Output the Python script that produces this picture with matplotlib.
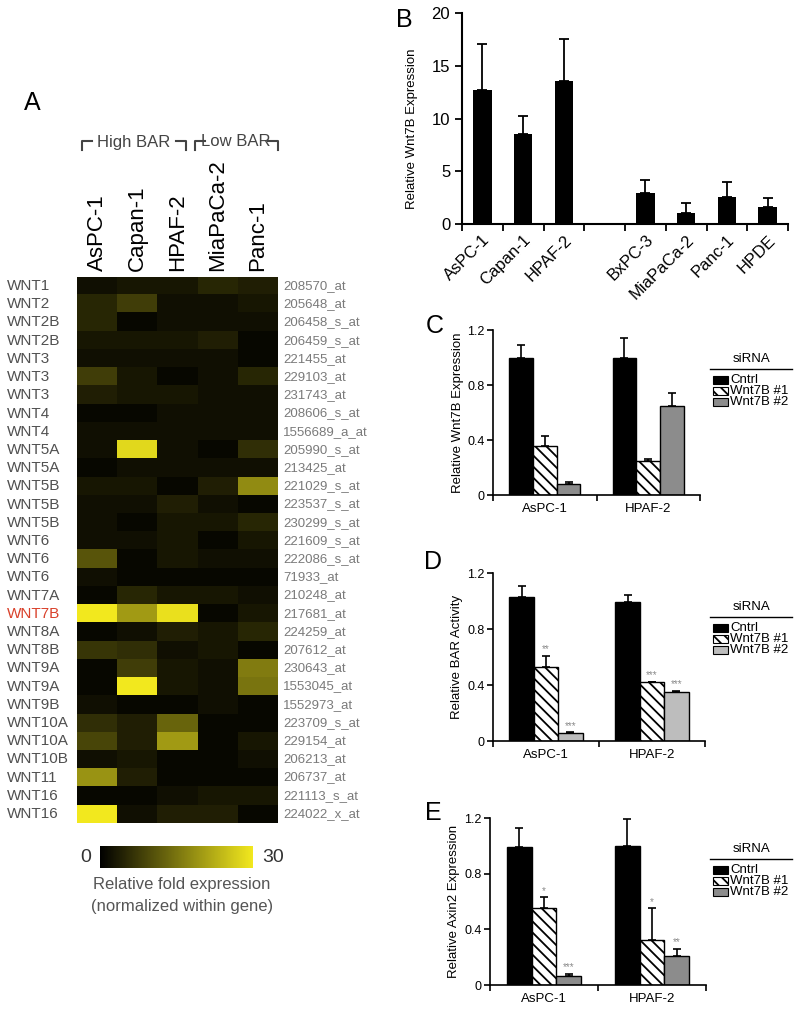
import numpy as np
import matplotlib
matplotlib.use('Agg')
import matplotlib.pyplot as plt
import matplotlib.transforms as mtransforms
from matplotlib.colors import LinearSegmentedColormap
from matplotlib.lines import Line2D
from matplotlib.patches import Rectangle

plt.rcParams['font.family'] = ['Liberation Sans', 'DejaVu Sans']
plt.rcParams['hatch.linewidth'] = 1.3

W, H = 800, 1013

# ---------------- panel A: heatmap data ----------------
genes = ['WNT1', 'WNT2', 'WNT2B', 'WNT2B', 'WNT3', 'WNT3', 'WNT3', 'WNT4', 'WNT4',
         'WNT5A', 'WNT5A', 'WNT5B', 'WNT5B', 'WNT5B', 'WNT6', 'WNT6', 'WNT6', 'WNT7A',
         'WNT7B', 'WNT8A', 'WNT8B', 'WNT9A', 'WNT9A', 'WNT9B', 'WNT10A', 'WNT10A',
         'WNT10B', 'WNT11', 'WNT16', 'WNT16']
probes = ['208570_at', '205648_at', '206458_s_at', '206459_s_at', '221455_at', '229103_at',
          '231743_at', '208606_s_at', '1556689_a_at', '205990_s_at', '213425_at',
          '221029_s_at', '223537_s_at', '230299_s_at', '221609_s_at', '222086_s_at',
          '71933_at', '210248_at', '217681_at', '224259_at', '207612_at', '230643_at',
          '1553045_at', '1552973_at', '223709_s_at', '229154_at', '206213_at', '206737_at',
          '221113_s_at', '224022_x_at']
cell_lines_a = ['AsPC-1', 'Capan-1', 'HPAF-2', 'MiaPaCa-2', 'Panc-1']
fold_aspc1 = [2, 5, 5, 3, 2, 8, 4, 1, 2, 2, 1, 3, 2, 2, 2, 11, 2, 1, 30, 1, 7, 1, 1, 2, 6, 9, 2, 19, 1, 30]
fold_capan1 = [3, 8, 1, 3, 2, 3, 3, 1, 2, 28, 2, 3, 2, 1, 2, 1, 1, 5, 20, 2, 6, 8, 30, 1, 4, 4, 3, 4, 1, 2]
fold_hpaf2 = [3, 2, 2, 3, 2, 1, 3, 2, 2, 2, 2, 1, 4, 3, 3, 3, 1, 3, 29, 4, 2, 3, 3, 1, 13, 20, 1, 1, 2, 4]
fold_miapaca2 = [5, 2, 2, 4, 2, 2, 2, 2, 2, 1, 2, 4, 2, 3, 1, 2, 1, 3, 1, 3, 3, 2, 2, 2, 1, 1, 1, 1, 3, 4]
fold_panc1 = [4, 3, 2, 1, 1, 5, 2, 2, 2, 6, 2, 18, 1, 5, 3, 2, 1, 2, 3, 5, 1, 16, 15, 1, 1, 3, 2, 1, 3, 1]

# ---------------- panel B ----------------
lines_b = ['AsPC-1', 'Capan-1', 'HPAF-2', 'BxPC-3', 'MiaPaCa-2', 'Panc-1', 'HPDE']
wnt7b_mean = [12.7, 8.5, 13.6, 2.9, 1.0, 2.6, 1.6]
wnt7b_sd = [4.4, 1.7, 3.9, 1.3, 1.0, 1.4, 0.9]

# ---------------- panels C-E ----------------
groups = ['AsPC-1', 'HPAF-2']
legend_labels = ['Cntrl', 'Wnt7B #1', 'Wnt7B #2']

c_cntrl, c_cntrl_err = [1.0, 1.0], [0.09, 0.14]
c_si1, c_si1_err = [0.36, 0.25], [0.07, 0.01]
c_si2, c_si2_err = [0.08, 0.65], [0.015, 0.09]

d_cntrl, d_cntrl_err = [1.03, 0.99], [0.08, 0.05]
d_si1, d_si1_err = [0.53, 0.42], [0.08, 0.005]
d_si2, d_si2_err = [0.055, 0.35], [0.008, 0.008]
d_stars = [['', ''], ['**', '***'], ['***', '***']]

e_cntrl, e_cntrl_err = [0.99, 1.0], [0.14, 0.19]
e_si1, e_si1_err = [0.55, 0.32], [0.08, 0.23]
e_si2, e_si2_err = [0.065, 0.21], [0.015, 0.05]
e_stars = [['', ''], ['*', '*'], ['***', '**']]


def fx(x):
    return x / W


def fy(y):
    return 1 - y / H


def rect(l, t, r, b):
    return [fx(l), fy(b), (r - l) / W, (b - t) / H]


fig = plt.figure(figsize=(8, 10.13), dpi=100)

# ---------------- A ----------------
cmap = LinearSegmentedColormap.from_list('blackyellow', ['#000000', '#f2e81e'])
ax_a = fig.add_axes(rect(77, 277, 278, 823))
heat = np.column_stack([fold_aspc1, fold_capan1, fold_hpaf2, fold_miapaca2, fold_panc1])
im = ax_a.imshow(heat, cmap=cmap, vmin=0, vmax=30, aspect='auto', interpolation='nearest')
ax_a.set_xticks(range(len(cell_lines_a)))
ax_a.set_xticklabels(cell_lines_a, rotation=90, fontsize=16)
ax_a.xaxis.tick_top()
ax_a.tick_params(axis='x', length=0, pad=4)
ax_a.set_yticks([])
for s in ax_a.spines.values():
    s.set_visible(False)

tr = mtransforms.blended_transform_factory(fig.transFigure, ax_a.transData)
for i, (g, p) in enumerate(zip(genes, probes)):
    ax_a.text(fx(7), i, g, transform=tr, ha='left', va='center', fontsize=11,
              color='#d9412b' if g == 'WNT7B' else '#505050')
    ax_a.text(fx(283), i, p, transform=tr, ha='left', va='center', fontsize=9.5,
              color='#7a7a7a')

# High / Low BAR brackets
def bracket(x0, x1, label, xc):
    y0, y1 = fy(141), fy(150)
    fig.add_artist(Line2D([fx(x0), fx(x0), fx(x0 + 10)], [y1, y0, y0], color='#444444', lw=1.5))
    fig.add_artist(Line2D([fx(x1 - 10), fx(x1), fx(x1)], [y0, y0, y1], color='#444444', lw=1.5))
    fig.text(fx(xc), fy(142), label, ha='center', va='center', fontsize=12, color='#444444')

bracket(82, 186, 'High BAR', 134)
bracket(195, 278, 'Low BAR', 236)

fig.text(fx(32), fy(103), 'A', ha='center', va='center', fontsize=18)

# colorbar
cax = fig.add_axes(rect(100, 846, 253, 868))
cb = fig.colorbar(im, cax=cax, orientation='horizontal')
cb.set_ticks([])
cb.outline.set_visible(False)
fig.text(fx(86), fy(857), '0', ha='center', va='center', fontsize=14, color='#333333')
fig.text(fx(273), fy(857), '30', ha='center', va='center', fontsize=14, color='#333333')
fig.text(fx(182), fy(884), 'Relative fold expression', ha='center', va='center', fontsize=12, color='#555555')
fig.text(fx(182), fy(907), '(normalized within gene)', ha='center', va='center', fontsize=12, color='#555555')

# ---------------- B ----------------
ax_b = fig.add_axes(rect(462, 13, 788, 224))
pos_b = np.array([0, 1, 2, 4, 5, 6, 7])
ax_b.bar(pos_b, wnt7b_mean, width=0.45, color='black',
         yerr=[np.zeros(len(wnt7b_sd)), wnt7b_sd], capsize=3.5,
         error_kw=dict(elinewidth=1.3, capthick=1.3, ecolor='black'))
ax_b.set_xlim(-0.5, 7.5)
ax_b.set_ylim(0, 20)
ax_b.set_yticks([0, 5, 10, 15, 20])
ax_b.set_xticks(pos_b)
ax_b.set_xticklabels(lines_b, rotation=45, ha='right', rotation_mode='anchor', fontsize=12)
ax_b.set_xticks(np.arange(-0.5, 8, 1), minor=True)
ax_b.tick_params(axis='x', which='major', length=0, pad=6)
ax_b.tick_params(axis='x', which='minor', length=5, width=1.3, direction='out')
ax_b.tick_params(axis='y', length=5, width=1.3, labelsize=12)
ax_b.set_ylabel('Relative Wnt7B Expression', fontsize=9.5)
ax_b.yaxis.set_label_coords(-0.135, 0.45)
for s in ['top', 'right']:
    ax_b.spines[s].set_visible(False)
for s in ['left', 'bottom']:
    ax_b.spines[s].set_linewidth(1.5)
fig.text(fx(404), fy(20), 'B', ha='center', va='center', fontsize=18)


# ---------------- C, D, E ----------------
def knockdown(box, values, errors, stars, ylabel, gray, letter, letter_xy, leg_y):
    ax = fig.add_axes(rect(*box))
    x = np.arange(len(groups))
    styles = [('black', None), ('white', '\\\\\\'), (gray, None)]
    for k, (vals, errs) in enumerate(zip(values, errors)):
        fc, hatch = styles[k]
        xs = x + (k - 1) * 0.23
        ax.bar(xs, vals, width=0.23, color=fc, edgecolor='black', hatch=hatch, linewidth=1,
               yerr=[np.zeros(len(errs)), errs], capsize=3,
               error_kw=dict(elinewidth=1.2, capthick=1.2, ecolor='black'))
        if stars is not None:
            for xi, v, e, s in zip(xs, vals, errs, stars[k]):
                if s:
                    ax.annotate(s, (xi, v + e), xytext=(0, 1), textcoords='offset points',
                                ha='center', va='bottom', fontsize=7, color='#8a8a8a')
    ax.set_xlim(-0.5, 1.5)
    ax.set_ylim(0, 1.2)
    ax.set_yticks([0, 0.4, 0.8, 1.2])
    ax.set_yticklabels(['0', '0.4', '0.8', '1.2'])
    ax.set_xticks(x)
    ax.set_xticklabels(groups, fontsize=9.5)
    ax.set_xticks([-0.5, 0.5, 1.5], minor=True)
    ax.tick_params(axis='x', which='major', length=0, pad=6)
    ax.tick_params(axis='x', which='minor', length=4, width=1.2)
    ax.tick_params(axis='y', length=4, width=1.2, labelsize=9, pad=2)
    ax.set_ylabel(ylabel, fontsize=9.5)
    ax.yaxis.set_label_coords(-0.14, 0.5)
    for s in ['top', 'right']:
        ax.spines[s].set_visible(False)
    for s in ['left', 'bottom']:
        ax.spines[s].set_linewidth(1.2)
    fig.text(fx(letter_xy[0]), fy(letter_xy[1]), letter, ha='center', va='center', fontsize=18)

    # siRNA legend
    fig.text(fx(752), fy(leg_y), 'siRNA', ha='center', va='center', fontsize=9.5)
    fig.add_artist(Line2D([fx(710), fx(792)], [fy(leg_y + 10)] * 2, color='black', lw=1))
    for k, lab in enumerate(legend_labels):
        fc, hatch = styles[k]
        yc = leg_y + 21 + 11 * k
        fig.add_artist(Rectangle((fx(713), fy(yc + 4)), 15 / W, 8 / H, transform=fig.transFigure,
                                 facecolor=fc, edgecolor='black', hatch=hatch, lw=0.8))
        fig.text(fx(730), fy(yc), lab, ha='left', va='center', fontsize=9.5)
    return ax


knockdown((493, 330, 700, 495), [c_cntrl, c_si1, c_si2], [c_cntrl_err, c_si1_err, c_si2_err],
          None, 'Relative Wnt7B Expression', '#8c8c8c', 'C', (435, 326), 359)
knockdown((493, 573, 705, 741), [d_cntrl, d_si1, d_si2], [d_cntrl_err, d_si1_err, d_si2_err],
          d_stars, 'Relative BAR Activity', '#bdbdbd', 'D', (433, 562), 607)
knockdown((490, 818, 706, 985), [e_cntrl, e_si1, e_si2], [e_cntrl_err, e_si1_err, e_si2_err],
          e_stars, 'Relative Axin2 Expression', '#8c8c8c', 'E', (433, 813), 849)

fig.savefig('out.png', dpi=100)
